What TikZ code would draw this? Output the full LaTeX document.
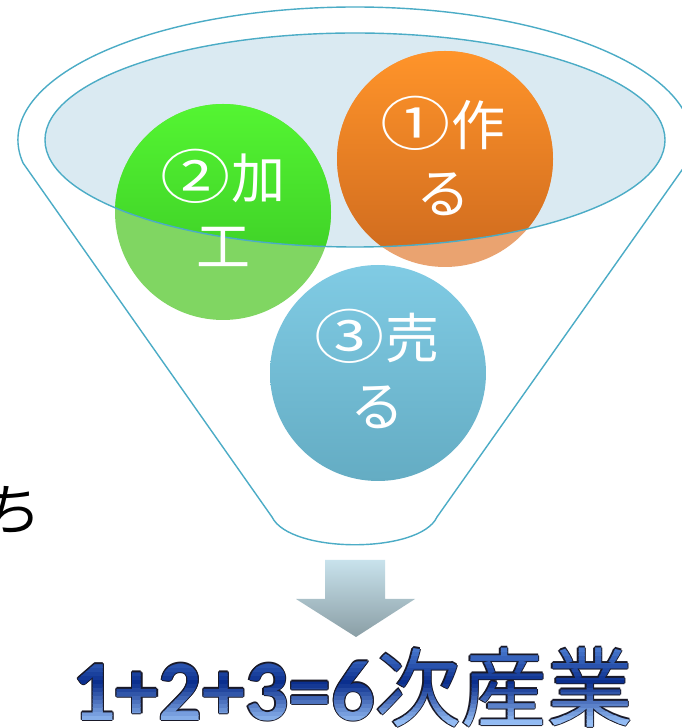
\documentclass[tikz,border=0pt]{standalone}
\usepackage{fontspec}
\newfontfamily\jp{Noto Sans CJK JP}
\newfontfamily\carl{Carlito}
\definecolor{funC}{RGB}{75,172,198}
\definecolor{ellF}{RGB}{218,234,242}
\definecolor{orL}{RGB}{234,163,112}
\definecolor{orT}{RGB}{255,148,42}
\definecolor{orB}{RGB}{205,105,30}
\definecolor{grL}{RGB}{128,214,98}
\definecolor{grT}{RGB}{84,245,50}
\definecolor{grB}{RGB}{55,195,35}
\definecolor{blT}{RGB}{128,203,228}
\definecolor{blB}{RGB}{100,172,195}
\definecolor{arT}{RGB}{200,226,236}
\definecolor{arB}{RGB}{138,158,165}
\definecolor{gA}{RGB}{80,130,215}
\definecolor{gB}{RGB}{10,45,140}
\definecolor{gC}{RGB}{150,190,245}
\definecolor{outC}{RGB}{25,25,40}
\newcommand\sixtext{{\carl\bfseries 1+2+3=6}{\jp 次産業}}
\newcommand\widecirc[1]{\scalebox{1.3}[1.08]{#1}}
\begin{document}
\begin{tikzpicture}[x=1pt,y=1pt,
  funline/.style={draw=funC, line width=1.4pt},
  lab/.style={font=\jp\fontsize{54}{68}\selectfont, text=white, align=center, inner sep=0},
  bigtxt/.style={font=\fontsize{86}{90}\selectfont, anchor=base west, inner sep=0}]
\clip (0,0) rectangle (682,728);
\fill[white] (0,0) rectangle (682,728);
% funnel
\draw[funline] (23.1,564.9) arc[start angle=190,end angle=-10,x radius=337,y radius=133]
  -- (437,211) .. controls (420,174) and (290,174) .. (272,211) -- cycle;
% inner ellipse fill
\fill[ellF] (355,588) ellipse[x radius=310,y radius=107];
% circles, outer (light) parts
\fill[orL] (445,569) circle[radius=108];
\fill[grL] (223,516) circle[radius=108];
\shade[top color=blT, bottom color=blB] (378,355) circle[radius=108];
% vivid parts inside ellipse
\begin{scope}
  \clip (355,588) ellipse[x radius=310,y radius=107];
  \shade[top color=orT, bottom color=orB] (445,569) circle[radius=108];
  \shade[top color=grT, bottom color=grB] (223,516) circle[radius=108];
\end{scope}
\draw[funline] (355,588) ellipse[x radius=310,y radius=107];
% labels
\node[lab] (c1) at (443,572) {\widecirc{①}作\\る};
\node[lab] (c2) at (223,520) {\widecirc{②}加\\工};
\node[lab] (c3) at (377,359) {\widecirc{③}売\\る};
% side text
\node[font=\jp\fontsize{56}{60}\selectfont, inner sep=0] (chi) at (14,218) {ち};
% arrow
\shade[top color=arT, bottom color=arB] (325,168) -- (385,168) -- (385,129) -- (415,129)
  -- (356,91) -- (296,129) -- (325,129) -- cycle;
% bottom title: outline
\foreach \dx/\dy [count=\k] in {1.2/0,-1.2/0,0/1.2,0/-1.2,0.85/0.85,0.85/-0.85,-0.85/0.85,-0.85/-0.85}
  \node[bigtxt, text=outC] (o\k) at (72+\dx,8+\dy) {\sixtext};
% gradient fill by bands
\foreach \i in {0,...,22}{
  \pgfmathsetmacro\ya{-4+4*\i}
  \pgfmathsetmacro\ym{\ya+2}
  \pgfmathtruncatemacro\pA{max(0,min(100,(\ym-45)/38*100))}
  \pgfmathtruncatemacro\pB{max(0,min(100,(\ym-5)/40*100))}
  \ifdim\ym pt>45pt \colorlet{bandc}{gA!\pA!gB}\else\colorlet{bandc}{gB!\pB!gC}\fi
  \begin{scope}
    \clip (0,\ya) rectangle (682,\ya+4.3);
    \node[bigtxt, text=bandc] (s\i) at (72,8) {\sixtext};
  \end{scope}
}
\end{tikzpicture}
\end{document}
